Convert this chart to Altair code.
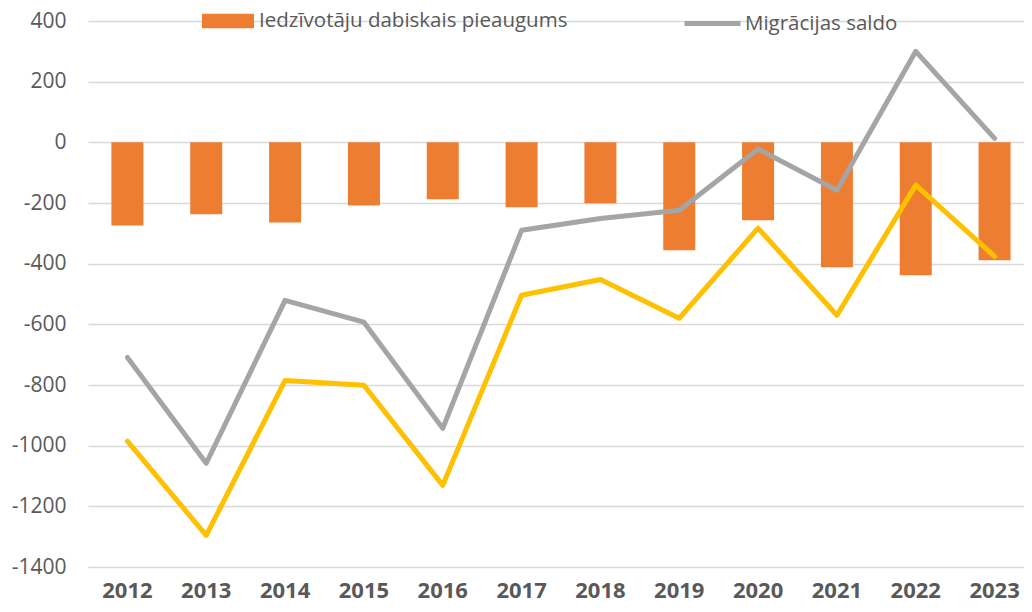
import altair as alt
import pandas as pd

years = ["2012", "2013", "2014", "2015", "2016", "2017", "2018", "2019", "2020", "2021", "2022", "2023"]
natural_growth = [-274, -237, -264, -208, -188, -214, -201, -356, -257, -412, -438, -389]
migration = [-709, -1058, -521, -593, -943, -290, -251, -224, -22, -158, 300, 13]
total_change = [-985, -1296, -785, -801, -1131, -504, -452, -580, -283, -570, -141, -376]

bar_name = "Iedzīvotāju dabiskais pieaugums"
line_name = "Migrācijas saldo"

df_bar = pd.DataFrame({"year": years, "value": natural_growth, "series": bar_name})
df_mig = pd.DataFrame({"year": years, "value": migration, "series": line_name})
df_tot = pd.DataFrame({"year": years, "value": total_change, "series": "Kopā"})

FONT = "Open Sans"
TXT = "#595959"

x_enc = alt.X(
    "year:N",
    sort=years,
    title=None,
    scale=alt.Scale(range=[-2, 944], paddingInner=0, paddingOuter=0),
    axis=alt.Axis(labelAngle=0, ticks=False, domain=False, grid=False,
                  labelFontWeight="bold", labelFontSize=22, labelColor=TXT,
                  labelFont=FONT, labelPadding=13),
)
y_enc = alt.Y(
    "value:Q",
    title=None,
    scale=alt.Scale(domain=[-1400, 400], nice=False, zero=False),
    axis=alt.Axis(values=list(range(-1400, 401, 200)),
                  labelExpr="datum.value < 0 ? '-' + abs(datum.value) : '' + datum.value",
                  ticks=False, domain=False,
                  labelFontSize=21, labelColor=TXT, labelFont=FONT, labelPadding=24,
                  gridColor="#D9D9D9", gridWidth=1.5),
)

bars = alt.Chart(df_bar).mark_bar(size=32).encode(
    x=x_enc,
    y=y_enc,
    color=alt.Color(
        "series:N",
        scale=alt.Scale(domain=[bar_name], range=["#ED7D31"]),
        legend=alt.Legend(
            title=None, orient="none", legendX=112, legendY=-26, padding=0,
            symbolType="M-1,-0.28H1V0.28H-1Z", symbolSize=2704, symbolStrokeWidth=0,
            symbolOpacity=1,
            labelFontSize=20.5, labelColor=TXT, labelFont=FONT, labelLimit=600,
            labelOffset=5,
        ),
    ),
)

mig_line = alt.Chart(df_mig).mark_line(strokeWidth=5, strokeCap="round", strokeJoin="round").encode(
    x=x_enc,
    y=y_enc,
    stroke=alt.Stroke(
        "series:N",
        scale=alt.Scale(domain=[line_name], range=["#A5A5A5"]),
        legend=alt.Legend(
            title=None, orient="none", legendX=592, legendY=-28, padding=0,
            symbolType="stroke", symbolSize=3136, symbolStrokeWidth=5,
            labelFontSize=20.5, labelColor=TXT, labelFont=FONT, labelLimit=600,
            labelOffset=2,
        ),
    ),
)

tot_line = alt.Chart(df_tot).mark_line(strokeWidth=5, strokeCap="round", strokeJoin="round", color="#FFC000").encode(
    x=x_enc,
    y=y_enc,
)

chart = alt.layer(bars, mig_line, tot_line).properties(
    width=934,
    height=546,
    background="white",
    autosize=alt.AutoSizeParams(type="none"),
    padding={"left": 82, "top": 13, "right": 0, "bottom": 37},
).configure_view(stroke=None)

chart.save("out.html", embed_options={"renderer": "svg", "actions": False})
